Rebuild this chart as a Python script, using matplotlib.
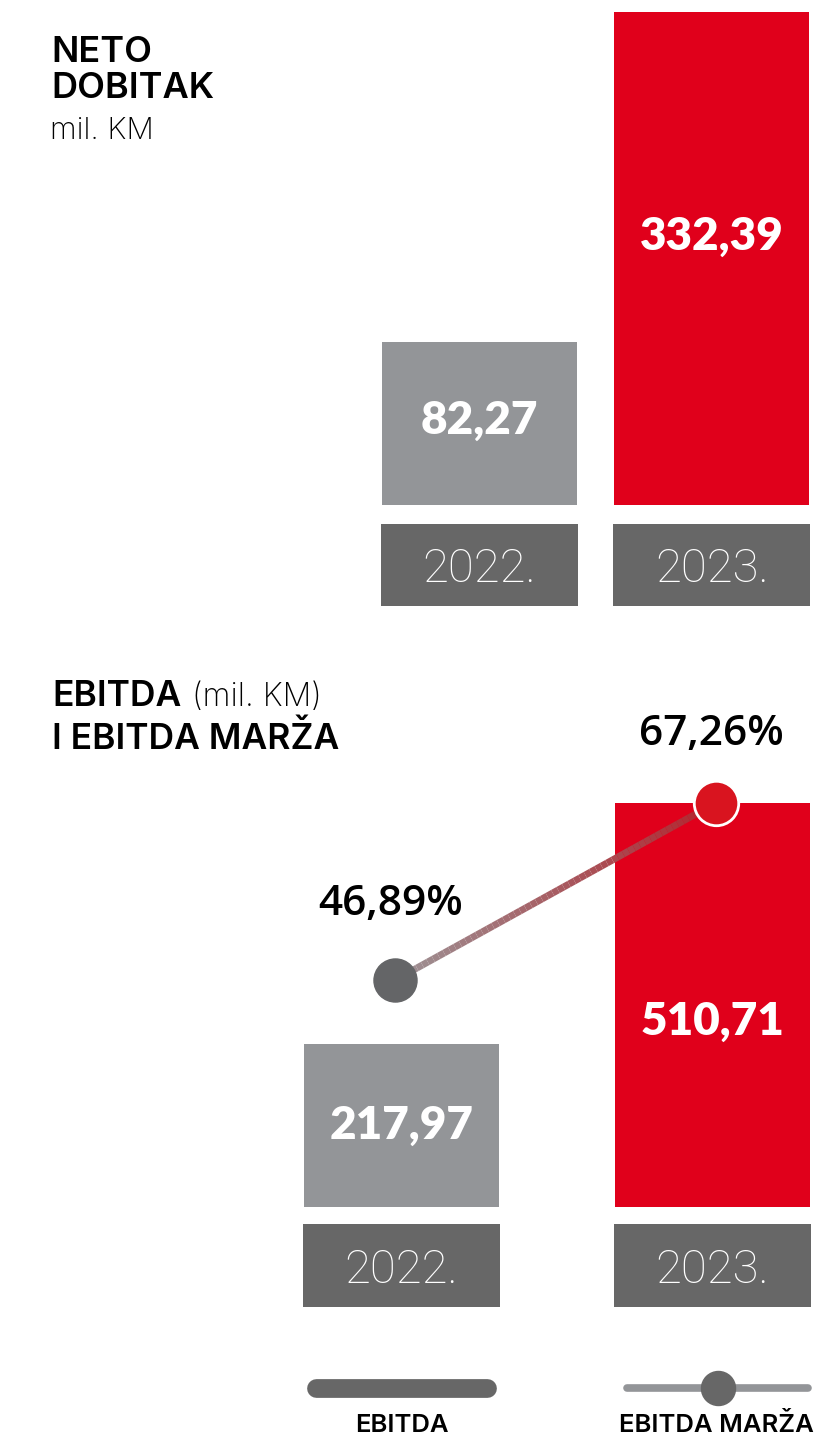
import numpy as np
import matplotlib
matplotlib.use("Agg")
import matplotlib.pyplot as plt
from matplotlib.collections import LineCollection
from matplotlib.colors import to_rgb

# data
years = ["2022.", "2023."]
net_profit = [82.27, 332.39]          # mil. KM
ebitda = [217.97, 510.71]             # mil. KM
ebitda_margin = [46.89, 67.26]        # %

# colours
RED = "#E0001B"
GREY = "#939598"
DARK = "#676767"

W, H = 825, 1439
fig = plt.figure(figsize=(W / 100, H / 100), dpi=100)

def rect(x0, y0, x1, y1):
    # pixel box -> figure fraction
    return [x0 / W, 1 - y1 / H, (x1 - x0) / W, (y1 - y0) / H]

def fmt(v, suffix=""):
    return f"{v:.2f}".replace(".", ",") + suffix

def clean(ax):
    ax.set_axis_off()

BAR_COLORS = [GREY, RED]
NUM_FONT = dict(family="Lato", weight="heavy", color="white", fontsize=33)
YEAR_FONT = dict(family="Roboto", weight="light", color="white", fontsize=34)

# ---- NETO DOBITAK ----
net_floor = -41.3
ax1 = fig.add_axes(rect(375.1, 0, 816, 505))
ax1.set_xlim(-0.45, 1.45)
ax1.set_ylim(net_floor, 341.5)
x = np.arange(len(years))
ax1.bar(x, np.array(net_profit) - net_floor, bottom=net_floor, width=0.84, color=BAR_COLORS)
for xi, v, fr in zip(x, net_profit, [0.52, 0.545]):
    ax1.text(xi, net_floor + (v - net_floor) * fr, fmt(v), ha="center", va="center", **NUM_FONT)
clean(ax1)

ax1y = fig.add_axes(rect(375.1, 524, 816, 606))
ax1y.set_xlim(-0.45, 1.45)
ax1y.set_ylim(0, 1)
ax1y.bar(x, 1, width=0.85, color=DARK)
for xi, y in zip(x, years):
    ax1y.text(xi, 0.45, y, ha="center", va="center", **YEAR_FONT)
clean(ax1y)

fig.text(51 / W, 1 - 52 / H, "NETO", fontsize=26, family="Inter", weight="semibold", va="center")
fig.text(51 / W, 1 - 89 / H, "DOBITAK", fontsize=26, family="Inter", weight="semibold", va="center")
fig.text(50 / W, 1 - 131 / H, "mil. KM", fontsize=22, family="Inter", weight="light", va="center")

# ---- EBITDA ----
eb_floor = 20.0
ax2 = fig.add_axes(rect(292.6, 790, 821.4, 1207))
ax2.set_xlim(-0.35, 1.35)
ax2.set_ylim(eb_floor, 526.5)
ax2.bar(x, np.array(ebitda) - eb_floor, bottom=eb_floor, width=0.627, color=BAR_COLORS)
for xi, v, fr in zip(x, ebitda, [0.5, 0.46]):
    ax2.text(xi, eb_floor + (v - eb_floor) * fr, fmt(v), ha="center", va="center", **NUM_FONT)
clean(ax2)

ax2y = fig.add_axes(rect(292.6, 1224, 821.4, 1307))
ax2y.set_xlim(-0.35, 1.35)
ax2y.set_ylim(0, 1)
ax2y.bar(x, 1, width=0.633, color=DARK)
for xi, y in zip(x, years):
    ax2y.text(xi, 0.45, y, ha="center", va="center", **YEAR_FONT)
clean(ax2y)

# margin line on twin axis
ax3 = ax2.twinx()
ax3.set_ylim(20.76, 68.76)
clean(ax3)
mx = x + np.array([-0.02, 0.01])
n = 60
t = np.linspace(0, 1, n)
lx = mx[0] + (mx[1] - mx[0]) * t
ly = ebitda_margin[0] + (ebitda_margin[1] - ebitda_margin[0]) * t
segs = np.stack([np.column_stack([lx[:-1], ly[:-1]]), np.column_stack([lx[1:], ly[1:]])], axis=1)
c0, c1 = np.array(to_rgb("#9c9396")), np.array(to_rgb("#b3232c"))
cols = [c0 + (c1 - c0) * ti for ti in t[:-1]]
ax3.add_collection(LineCollection(segs, colors=cols, linewidths=5, capstyle="butt", zorder=3))
ax3.plot(mx[0], ebitda_margin[0], "o", ms=31, color="#646567", zorder=4, clip_on=False)
ax3.plot(mx[1], ebitda_margin[1], "o", ms=32, color="#d9141f", mec="white", mew=2, zorder=4, clip_on=False)
for xi, v, off in zip(mx, ebitda_margin, [55, 50]):
    ax3.annotate(fmt(v, "%"), (xi, v), xytext=(-3, off), textcoords="offset points",
                 ha="center", va="center", fontsize=30.5, family="Open Sans", weight="semibold",
                 color="black", annotation_clip=False)

fig.text(52 / W, 1 - 697 / H, "EBITDA", fontsize=25.5, family="Inter", weight="semibold", va="center")
fig.text(192 / W, 1 - 697 / H, "(mil. KM)", fontsize=23, family="Inter", weight="light", va="center")
fig.text(52 / W, 1 - 739 / H, "I EBITDA MARŽA", fontsize=25.5, family="Inter", weight="semibold", va="center")

# ---- legend ----
axl = fig.add_axes(rect(0, 1360, W, H))
axl.set_xlim(0, W)
axl.set_ylim(H, 1360)
clean(axl)
axl.plot([316, 487], [1388, 1388], color=DARK, lw=13.5, solid_capstyle="round")
axl.plot([627, 808], [1388, 1388], color=GREY, lw=5.5, solid_capstyle="round")
axl.plot(718, 1388, "o", ms=24.5, color=DARK)
axl.text(402, 1425, "EBITDA", ha="center", va="center", fontsize=18.5, family="Inter", weight="semibold")
axl.text(716, 1425, "EBITDA MARŽA", ha="center", va="center", fontsize=18.5, family="Inter", weight="semibold")

fig.savefig("out.png", dpi=100, facecolor="white")
